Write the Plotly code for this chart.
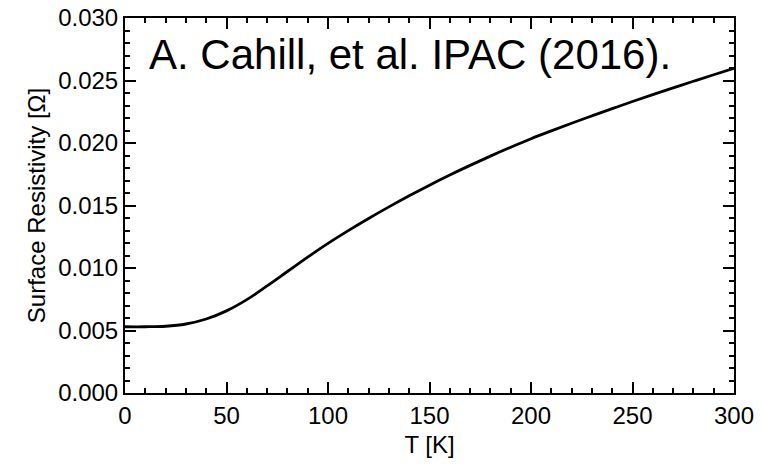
import plotly.graph_objects as go

temperature_K = [0, 10, 20, 30, 40, 50, 60, 70, 80, 90, 100, 110, 120, 130, 140, 150,
                 160, 170, 180, 190, 200, 210, 220, 230, 240, 250, 260, 270, 280, 290, 300]
surface_resistivity = [0.00530, 0.00530, 0.00534, 0.00552, 0.00592, 0.00657, 0.00747, 0.00857,
                       0.00972, 0.01087, 0.01197, 0.01299, 0.01396, 0.01489, 0.01578, 0.01663,
                       0.01744, 0.01821, 0.01895, 0.01966, 0.02034, 0.02097, 0.02158, 0.02217,
                       0.02275, 0.02332, 0.02387, 0.02441, 0.02494, 0.02546, 0.02597]
x_ticks = [0, 50, 100, 150, 200, 250, 300]
y_ticks = [0.000, 0.005, 0.010, 0.015, 0.020, 0.025, 0.030]
y_tick_labels = ["0.000", "0.005", "0.010", "0.015", "0.020", "0.025", "0.030"]
annotation_text = "A. Cahill, et al. IPAC (2016)."

FONT = "Liberation Sans, Arial, sans-serif"

fig = go.Figure()
fig.add_trace(go.Scatter(
    x=temperature_K, y=surface_resistivity, mode="lines",
    line=dict(color="black", width=2.8, shape="spline", smoothing=1.0),
    showlegend=False, hoverinfo="skip"))
fig.add_trace(go.Scatter(
    x=[temperature_K[0]], y=[surface_resistivity[0]], xaxis="x2", yaxis="y2",
    mode="markers", marker=dict(opacity=0), showlegend=False, hoverinfo="skip"))
fig.add_trace(go.Scatter(
    x=[temperature_K[0]], y=[surface_resistivity[0]], xaxis="x", yaxis="y3",
    mode="markers", marker=dict(opacity=0), showlegend=False, hoverinfo="skip"))

tick_in = dict(ticks="inside", ticklen=11, tickwidth=2, tickcolor="black")
minor_x = dict(dtick=10, ticks="inside", ticklen=5, tickwidth=2, tickcolor="black")
minor_y = dict(dtick=0.001, ticks="inside", ticklen=5, tickwidth=2, tickcolor="black")
line_style = dict(showgrid=False, zeroline=False, showline=True, linecolor="black", linewidth=2)

fig.update_layout(
    template="none",
    width=762, height=466,
    margin=dict(l=125, r=28, t=18, b=73),
    plot_bgcolor="white", paper_bgcolor="white",
    xaxis=dict(range=[0, 300], tickmode="array", tickvals=x_ticks, ticktext=[str(v) for v in x_ticks],
               tickfont=dict(family=FONT, size=24, color="black"),
               minor=minor_x,
               title=dict(text="T [K]", font=dict(family=FONT, size=24, color="black"), standoff=8),
               **tick_in, **line_style),
    yaxis=dict(range=[0, 0.030], tickmode="array", tickvals=y_ticks, ticktext=y_tick_labels,
               tickfont=dict(family=FONT, size=24, color="black"),
               minor=minor_y,
               title=dict(text="Surface Resistivity [Ω]", font=dict(family=FONT, size=24, color="black"), standoff=6),
               **tick_in, **line_style),
    xaxis2=dict(range=[0, 300], overlaying="x", side="top", anchor="y", tickmode="array", tickvals=x_ticks,
                showticklabels=False, minor=minor_x, **tick_in, **line_style),
    yaxis2=dict(range=[0, 0.030], overlaying="y", side="right", anchor="x", tickmode="array", tickvals=y_ticks,
                showticklabels=False, minor=minor_y, **tick_in, **line_style),
    yaxis3=dict(range=[0, 0.030], overlaying="y", side="left", anchor="x", tickmode="array", tickvals=y_ticks,
                showticklabels=False, showgrid=False, zeroline=False, showline=False,
                ticks="inside", ticklen=11, tickwidth=2, tickcolor="black"),
)

fig.add_annotation(
    text=annotation_text, xref="paper", yref="paper", x=0.036, y=0.903,
    xanchor="left", yanchor="middle", showarrow=False,
    font=dict(family=FONT, size=42, color="black"))

fig.write_html("out.html")
